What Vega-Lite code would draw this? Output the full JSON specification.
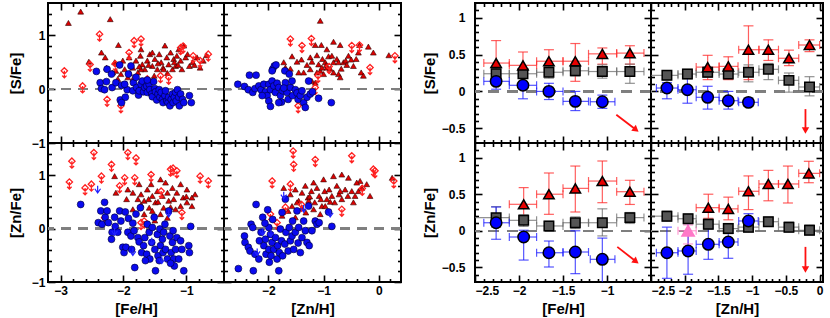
{
"$schema":"https://vega.github.io/schema/vega-lite/v6.json",
"padding":{"left":7,"top":1,"right":2,"bottom":1},
"config":{"view":{"stroke":"black","strokeWidth":2},
"axis":{"domain":false,"grid":false,"tickColor":"black","tickWidth":1.6,"labelColor":"black","labelFont":"Liberation Sans","labelFontSize":12,"labelFontWeight":"bold","titleFont":"Liberation Sans","titleFontSize":15,"titleFontWeight":"bold","titleColor":"black","labelPadding":10,"titlePadding":5,"format":"~g"}},
"datasets":{
"sc":[
{"p":"TL","c":"r","x":-2.875,"y":1.23},{"p":"TL","c":"r","x":-2.68,"y":1.44},{"p":"TL","c":"r","x":-2.21,"y":1.3},{"p":"TL","c":"r","x":-2.35,"y":0.68},{"p":"TL","c":"r","x":-2.29,"y":0.59},{"p":"TL","c":"r","x":-2.55,"y":0.51},{"p":"TL","c":"r","x":-2.08,"y":0.82},{"p":"TL","c":"r","x":-2.27,"y":0.4},{"p":"TL","c":"r","x":-2.17,"y":0.31},{"p":"TL","c":"r","x":-2.12,"y":0.34},{"p":"TL","c":"r","x":-2.04,"y":0.28},{"p":"TL","c":"r","x":-1.98,"y":0.37},{"p":"TL","c":"r","x":-1.93,"y":0.22},{"p":"TL","c":"r","x":-1.85,"y":0.4},{"p":"TL","c":"r","x":-1.8,"y":0.53},{"p":"TL","c":"r","x":-1.77,"y":0.31},{"p":"TL","c":"r","x":-1.73,"y":0.62},{"p":"TL","c":"r","x":-1.7,"y":0.46},{"p":"TL","c":"r","x":-1.66,"y":0.37},{"p":"TL","c":"r","x":-1.62,"y":0.53},{"p":"TL","c":"r","x":-1.58,"y":0.65},{"p":"TL","c":"r","x":-1.54,"y":0.43},{"p":"TL","c":"r","x":-1.5,"y":0.56},{"p":"TL","c":"r","x":-1.46,"y":0.37},{"p":"TL","c":"r","x":-1.43,"y":0.65},{"p":"TL","c":"r","x":-1.4,"y":0.5},{"p":"TL","c":"r","x":-1.37,"y":0.4},{"p":"TL","c":"r","x":-1.34,"y":0.81},{"p":"TL","c":"r","x":-1.31,"y":0.59},{"p":"TL","c":"r","x":-1.28,"y":0.46},{"p":"TL","c":"r","x":-1.25,"y":0.68},{"p":"TL","c":"r","x":-1.22,"y":0.37},{"p":"TL","c":"r","x":-1.2,"y":0.56},{"p":"TL","c":"r","x":-1.17,"y":0.43},{"p":"TL","c":"r","x":-1.15,"y":0.62},{"p":"TL","c":"r","x":-1.12,"y":0.74},{"p":"TL","c":"r","x":-1.09,"y":0.53},{"p":"TL","c":"r","x":-1.07,"y":0.37},{"p":"TL","c":"r","x":-1.04,"y":0.81},{"p":"TL","c":"r","x":-1.01,"y":0.59},{"p":"TL","c":"r","x":-0.98,"y":0.65},{"p":"TL","c":"r","x":-0.95,"y":0.43},{"p":"TL","c":"r","x":-0.9,"y":0.5},{"p":"TL","c":"r","x":-0.83,"y":0.59},{"p":"TL","c":"r","x":-0.78,"y":0.4},{"p":"TL","c":"r","x":-0.73,"y":0.53},{"p":"TL","c":"r","x":-0.68,"y":0.63},{"p":"TL","c":"r","x":-2.14,"y":0.5},{"p":"TL","c":"r","x":-2.01,"y":0.53},{"p":"TL","c":"r","x":-1.91,"y":0.59},{"p":"TL","c":"r","x":-1.72,"y":0.74},{"p":"TL","c":"r","x":-1.54,"y":0.68},{"p":"TL","c":"r","x":-1.36,"y":0.37},{"p":"TL","c":"r","x":-1.51,"y":0.25},{"p":"TL","c":"r","x":-1.85,"y":0.19},{"p":"TL","c":"r","x":-2.09,"y":0.19},{"p":"TL","c":"r","x":-1.72,"y":0.37},{"p":"TL","c":"r","x":-1.19,"y":0.5},{"p":"TL","c":"r","x":-1.6,"y":0.45},{"p":"TL","c":"r","x":-1.45,"y":0.48},{"p":"TL","c":"r","x":-1.3,"y":0.3},{"p":"TL","c":"r","x":-1.13,"y":0.45},{"p":"TL","c":"r","x":-0.87,"y":0.45},{"p":"TL","c":"r","x":-1.75,"y":0.42},{"p":"TL","c":"r","x":-1.9,"y":0.3},
{"p":"TL","c":"rl","x":-2.94,"y":0.34},{"p":"TL","c":"rl","x":-2.65,"y":0.06},{"p":"TL","c":"rl","x":-2.53,"y":0.46},{"p":"TL","c":"rl","x":-2.38,"y":1.02},{"p":"TL","c":"rl","x":-2.26,"y":-0.19},{"p":"TL","c":"rl","x":-2.04,"y":-0.31},{"p":"TL","c":"rl","x":-1.91,"y":0.68},{"p":"TL","c":"rl","x":-1.83,"y":0.9},{"p":"TL","c":"rl","x":-1.72,"y":0.93},{"p":"TL","c":"rl","x":-1.41,"y":0.25},{"p":"TL","c":"rl","x":-1.28,"y":0.22},{"p":"TL","c":"rl","x":-1.09,"y":0.77},{"p":"TL","c":"rl","x":-0.65,"y":0.65},{"p":"TL","c":"rl","x":-0.78,"y":0.53},{"p":"TL","c":"rl","x":-0.89,"y":0.62},{"p":"TL","c":"rl","x":-1.62,"y":0.19},{"p":"TL","c":"rl","x":-2.13,"y":0.47},{"p":"TL","c":"rl","x":-1.05,"y":0.8},
{"p":"TL","c":"b","x":-2.43,"y":0.33},{"p":"TL","c":"b","x":-2.37,"y":0.12},{"p":"TL","c":"b","x":-2.35,"y":0.01},{"p":"TL","c":"b","x":-2.27,"y":0.14},{"p":"TL","c":"b","x":-2.26,"y":0.37},{"p":"TL","c":"b","x":-2.19,"y":0.28},{"p":"TL","c":"b","x":-2.18,"y":0.03},{"p":"TL","c":"b","x":-2.12,"y":0.12},{"p":"TL","c":"b","x":-2.06,"y":0.45},{"p":"TL","c":"b","x":-2.05,"y":-0.2},{"p":"TL","c":"b","x":-2.03,"y":0.07},{"p":"TL","c":"b","x":-1.97,"y":-0.15},{"p":"TL","c":"b","x":-1.94,"y":-0.01},{"p":"TL","c":"b","x":-1.92,"y":0.28},{"p":"TL","c":"b","x":-1.88,"y":0.43},{"p":"TL","c":"b","x":-1.85,"y":-0.03},{"p":"TL","c":"b","x":-1.84,"y":0.12},{"p":"TL","c":"b","x":-1.8,"y":0.22},{"p":"TL","c":"b","x":-1.79,"y":0.03},{"p":"TL","c":"b","x":-1.76,"y":-0.11},{"p":"TL","c":"b","x":-1.75,"y":-0.03},{"p":"TL","c":"b","x":-1.72,"y":0.09},{"p":"TL","c":"b","x":-1.7,"y":0.15},{"p":"TL","c":"b","x":-1.68,"y":-0.05},{"p":"TL","c":"b","x":-1.66,"y":0.03},{"p":"TL","c":"b","x":-1.63,"y":0.06},{"p":"TL","c":"b","x":-1.62,"y":-0.06},{"p":"TL","c":"b","x":-1.59,"y":0.09},{"p":"TL","c":"b","x":-1.58,"y":-0.01},{"p":"TL","c":"b","x":-1.55,"y":-0.09},{"p":"TL","c":"b","x":-1.54,"y":-0.14},{"p":"TL","c":"b","x":-1.52,"y":0.14},{"p":"TL","c":"b","x":-1.5,"y":0.01},{"p":"TL","c":"b","x":-1.49,"y":-0.05},{"p":"TL","c":"b","x":-1.47,"y":-0.2},{"p":"TL","c":"b","x":-1.45,"y":-0.09},{"p":"TL","c":"b","x":-1.43,"y":-0.01},{"p":"TL","c":"b","x":-1.42,"y":-0.15},{"p":"TL","c":"b","x":-1.4,"y":-0.06},{"p":"TL","c":"b","x":-1.38,"y":-0.19},{"p":"TL","c":"b","x":-1.37,"y":-0.25},{"p":"TL","c":"b","x":-1.34,"y":-0.12},{"p":"TL","c":"b","x":-1.33,"y":-0.03},{"p":"TL","c":"b","x":-1.31,"y":-0.22},{"p":"TL","c":"b","x":-1.29,"y":-0.25},{"p":"TL","c":"b","x":-1.28,"y":-0.15},{"p":"TL","c":"b","x":-1.26,"y":-0.31},{"p":"TL","c":"b","x":-1.24,"y":-0.19},{"p":"TL","c":"b","x":-1.22,"y":-0.09},{"p":"TL","c":"b","x":-1.21,"y":-0.25},{"p":"TL","c":"b","x":-1.19,"y":-0.15},{"p":"TL","c":"b","x":-1.17,"y":-0.06},{"p":"TL","c":"b","x":-1.16,"y":-0.22},{"p":"TL","c":"b","x":-1.14,"y":-0.01},{"p":"TL","c":"b","x":-1.12,"y":-0.15},{"p":"TL","c":"b","x":-1.11,"y":-0.31},{"p":"TL","c":"b","x":-1.09,"y":-0.09},{"p":"TL","c":"b","x":-1.06,"y":-0.19},{"p":"TL","c":"b","x":-1.04,"y":-0.25},{"p":"TL","c":"b","x":-0.95,"y":-0.12},{"p":"TL","c":"b","x":-0.92,"y":-0.25},{"p":"TL","c":"b","x":-1.62,"y":0.17},{"p":"TL","c":"b","x":-1.98,"y":0.09},{"p":"TL","c":"b","x":-2.3,"y":-0.01},{"p":"TL","c":"b","x":-2.03,"y":-0.25},
{"p":"TR","c":"r","x":-1.06,"y":1.27},{"p":"TR","c":"r","x":-1.15,"y":0.82},{"p":"TR","c":"r","x":-1.04,"y":0.82},{"p":"TR","c":"r","x":-0.82,"y":0.88},{"p":"TR","c":"r","x":-0.7,"y":0.82},{"p":"TR","c":"r","x":-0.35,"y":0.82},{"p":"TR","c":"r","x":-0.19,"y":0.79},{"p":"TR","c":"r","x":-0.1,"y":0.68},{"p":"TR","c":"r","x":0.18,"y":0.63},{"p":"TR","c":"r","x":-1.57,"y":0.61},{"p":"TR","c":"r","x":-1.48,"y":0.51},{"p":"TR","c":"r","x":-1.24,"y":0.59},{"p":"TR","c":"r","x":-1.21,"y":0.51},{"p":"TR","c":"r","x":-1.12,"y":0.63},{"p":"TR","c":"r","x":-1.09,"y":0.46},{"p":"TR","c":"r","x":-1.02,"y":0.56},{"p":"TR","c":"r","x":-0.97,"y":0.5},{"p":"TR","c":"r","x":-0.94,"y":0.4},{"p":"TR","c":"r","x":-0.91,"y":0.61},{"p":"TR","c":"r","x":-0.85,"y":0.62},{"p":"TR","c":"r","x":-0.82,"y":0.5},{"p":"TR","c":"r","x":-0.76,"y":0.56},{"p":"TR","c":"r","x":-0.73,"y":0.5},{"p":"TR","c":"r","x":-0.68,"y":0.38},{"p":"TR","c":"r","x":-0.64,"y":0.5},{"p":"TR","c":"r","x":-0.6,"y":0.53},{"p":"TR","c":"r","x":-0.55,"y":0.62},{"p":"TR","c":"r","x":-0.46,"y":0.43},{"p":"TR","c":"r","x":-0.41,"y":0.56},{"p":"TR","c":"r","x":-0.37,"y":0.68},{"p":"TR","c":"r","x":-0.32,"y":0.31},{"p":"TR","c":"r","x":-0.28,"y":0.25},{"p":"TR","c":"r","x":-1.72,"y":0.5},{"p":"TR","c":"r","x":-1.69,"y":0.4},{"p":"TR","c":"r","x":-1.6,"y":0.38},{"p":"TR","c":"r","x":-1.45,"y":0.31},{"p":"TR","c":"r","x":-1.36,"y":0.31},{"p":"TR","c":"r","x":-1.21,"y":0.15},{"p":"TR","c":"r","x":-1.12,"y":0.31},{"p":"TR","c":"r","x":-1.06,"y":0.34},{"p":"TR","c":"r","x":-1.03,"y":0.4},{"p":"TR","c":"r","x":-1.0,"y":0.28},{"p":"TR","c":"r","x":-1.15,"y":0.12},{"p":"TR","c":"r","x":-0.94,"y":0.74},{"p":"TR","c":"r","x":-0.73,"y":0.28},{"p":"TR","c":"r","x":-0.7,"y":0.22},{"p":"TR","c":"r","x":-1.24,"y":0.37},{"p":"TR","c":"r","x":-0.82,"y":0.31},{"p":"TR","c":"r","x":-0.95,"y":0.45},{"p":"TR","c":"r","x":-0.88,"y":0.38},{"p":"TR","c":"r","x":-0.58,"y":0.45},{"p":"TR","c":"r","x":-0.5,"y":0.55},{"p":"TR","c":"r","x":-1.3,"y":0.45},{"p":"TR","c":"r","x":-1.4,"y":0.55},
{"p":"TR","c":"rl","x":-1.6,"y":0.93},{"p":"TR","c":"rl","x":-1.22,"y":0.94},{"p":"TR","c":"rl","x":-1.39,"y":0.81},{"p":"TR","c":"rl","x":-1.46,"y":-0.31},{"p":"TR","c":"rl","x":-1.15,"y":0.03},{"p":"TR","c":"rl","x":-0.49,"y":0.81},{"p":"TR","c":"rl","x":-0.16,"y":0.4},{"p":"TR","c":"rl","x":0.29,"y":0.62},{"p":"TR","c":"rl","x":-0.35,"y":0.82},{"p":"TR","c":"rl","x":-1.1,"y":0.25},{"p":"TR","c":"rl","x":-0.9,"y":0.42},
{"p":"TR","c":"b","x":-2.55,"y":0.09},{"p":"TR","c":"b","x":-2.43,"y":0.05},{"p":"TR","c":"b","x":-2.34,"y":0.26},{"p":"TR","c":"b","x":-2.22,"y":0.26},{"p":"TR","c":"b","x":-2.36,"y":-0.01},{"p":"TR","c":"b","x":-2.28,"y":-0.06},{"p":"TR","c":"b","x":-2.24,"y":0.01},{"p":"TR","c":"b","x":-2.17,"y":0.06},{"p":"TR","c":"b","x":-2.13,"y":-0.01},{"p":"TR","c":"b","x":-2.08,"y":0.09},{"p":"TR","c":"b","x":-2.05,"y":-0.05},{"p":"TR","c":"b","x":-2.02,"y":-0.12},{"p":"TR","c":"b","x":-1.99,"y":-0.22},{"p":"TR","c":"b","x":-1.96,"y":-0.32},{"p":"TR","c":"b","x":-1.99,"y":0.09},{"p":"TR","c":"b","x":-1.96,"y":-0.01},{"p":"TR","c":"b","x":-1.93,"y":0.15},{"p":"TR","c":"b","x":-1.92,"y":0.37},{"p":"TR","c":"b","x":-1.89,"y":0.43},{"p":"TR","c":"b","x":-1.86,"y":0.45},{"p":"TR","c":"b","x":-1.93,"y":0.34},{"p":"TR","c":"b","x":-1.9,"y":0.06},{"p":"TR","c":"b","x":-1.87,"y":-0.06},{"p":"TR","c":"b","x":-1.84,"y":0.11},{"p":"TR","c":"b","x":-1.81,"y":0.03},{"p":"TR","c":"b","x":-1.78,"y":-0.12},{"p":"TR","c":"b","x":-1.76,"y":-0.24},{"p":"TR","c":"b","x":-1.74,"y":-0.03},{"p":"TR","c":"b","x":-1.7,"y":0.34},{"p":"TR","c":"b","x":-1.69,"y":0.12},{"p":"TR","c":"b","x":-1.66,"y":-0.06},{"p":"TR","c":"b","x":-1.64,"y":-0.19},{"p":"TR","c":"b","x":-1.62,"y":0.28},{"p":"TR","c":"b","x":-1.6,"y":0.03},{"p":"TR","c":"b","x":-1.57,"y":0.15},{"p":"TR","c":"b","x":-1.56,"y":-0.12},{"p":"TR","c":"b","x":-1.51,"y":-0.01},{"p":"TR","c":"b","x":-1.48,"y":-0.07},{"p":"TR","c":"b","x":-1.46,"y":-0.19},{"p":"TR","c":"b","x":-1.42,"y":-0.12},{"p":"TR","c":"b","x":-1.39,"y":-0.03},{"p":"TR","c":"b","x":-1.36,"y":-0.25},{"p":"TR","c":"b","x":-1.33,"y":-0.34},{"p":"TR","c":"b","x":-1.3,"y":-0.15},{"p":"TR","c":"b","x":-1.27,"y":0.15},{"p":"TR","c":"b","x":-1.24,"y":-0.09},{"p":"TR","c":"b","x":-1.2,"y":-0.05},{"p":"TR","c":"b","x":-1.09,"y":-0.17},{"p":"TR","c":"b","x":-0.86,"y":-0.25},{"p":"TR","c":"b","x":-1.81,"y":-0.25},{"p":"TR","c":"b","x":-2.11,"y":-0.12},{"p":"TR","c":"b","x":-1.72,"y":0.02},
{"p":"BL","c":"r","x":-2.14,"y":0.98},{"p":"BL","c":"r","x":-1.41,"y":0.92},{"p":"BL","c":"r","x":-1.33,"y":0.86},{"p":"BL","c":"r","x":-1.93,"y":0.73},{"p":"BL","c":"r","x":-2.12,"y":0.67},{"p":"BL","c":"r","x":-1.85,"y":0.67},{"p":"BL","c":"r","x":-1.72,"y":0.64},{"p":"BL","c":"r","x":-1.62,"y":0.73},{"p":"BL","c":"r","x":-1.54,"y":0.61},{"p":"BL","c":"r","x":-1.46,"y":0.7},{"p":"BL","c":"r","x":-1.38,"y":0.61},{"p":"BL","c":"r","x":-1.3,"y":0.67},{"p":"BL","c":"r","x":-1.22,"y":0.76},{"p":"BL","c":"r","x":-1.15,"y":0.67},{"p":"BL","c":"r","x":-1.09,"y":0.83},{"p":"BL","c":"r","x":-1.05,"y":0.58},{"p":"BL","c":"r","x":-0.99,"y":0.73},{"p":"BL","c":"r","x":-0.91,"y":0.58},{"p":"BL","c":"r","x":-0.86,"y":0.64},{"p":"BL","c":"r","x":-0.99,"y":0.49},{"p":"BL","c":"r","x":-1.09,"y":0.42},{"p":"BL","c":"r","x":-1.72,"y":0.45},{"p":"BL","c":"r","x":-1.59,"y":0.39},{"p":"BL","c":"r","x":-1.49,"y":0.49},{"p":"BL","c":"r","x":-1.36,"y":0.39},{"p":"BL","c":"r","x":-1.28,"y":0.52},{"p":"BL","c":"r","x":-1.17,"y":0.36},{"p":"BL","c":"r","x":-1.77,"y":0.55},{"p":"BL","c":"r","x":-1.67,"y":0.52},{"p":"BL","c":"r","x":-1.85,"y":0.36},{"p":"BL","c":"r","x":-1.67,"y":0.27},{"p":"BL","c":"r","x":-1.54,"y":0.33},{"p":"BL","c":"r","x":-1.41,"y":0.27},{"p":"BL","c":"r","x":-1.56,"y":0.83},{"p":"BL","c":"r","x":-1.75,"y":0.83},{"p":"BL","c":"r","x":-0.91,"y":0.42},{"p":"BL","c":"r","x":-1.2,"y":0.55},{"p":"BL","c":"r","x":-1.45,"y":0.5},{"p":"BL","c":"r","x":-1.6,"y":0.55},{"p":"BL","c":"r","x":-1.25,"y":0.4},{"p":"BL","c":"r","x":-1.0,"y":0.6},{"p":"BL","c":"r","x":-1.95,"y":0.55},{"p":"BL","c":"r","x":-1.5,"y":0.15},{"p":"BL","c":"r","x":-1.3,"y":0.2},
{"p":"BL","c":"rl","x":-2.82,"y":1.26},{"p":"BL","c":"rl","x":-2.86,"y":0.87},{"p":"BL","c":"rl","x":-2.61,"y":0.76},{"p":"BL","c":"rl","x":-2.51,"y":0.83},{"p":"BL","c":"rl","x":-2.47,"y":1.42},{"p":"BL","c":"rl","x":-2.19,"y":1.2},{"p":"BL","c":"rl","x":-1.93,"y":1.42},{"p":"BL","c":"rl","x":-1.8,"y":1.32},{"p":"BL","c":"rl","x":-2.35,"y":0.98},{"p":"BL","c":"rl","x":-2.06,"y":0.8},{"p":"BL","c":"rl","x":-1.98,"y":0.95},{"p":"BL","c":"rl","x":-1.82,"y":0.95},{"p":"BL","c":"rl","x":-1.56,"y":1.01},{"p":"BL","c":"rl","x":-1.25,"y":1.11},{"p":"BL","c":"rl","x":-1.21,"y":1.13},{"p":"BL","c":"rl","x":-1.15,"y":1.08},{"p":"BL","c":"rl","x":-0.78,"y":0.98},{"p":"BL","c":"rl","x":-0.65,"y":0.89},{"p":"BL","c":"rl","x":-1.67,"y":0.14},{"p":"BL","c":"rl","x":-1.72,"y":0.11},{"p":"BL","c":"rl","x":-1.07,"y":0.3},{"p":"BL","c":"rl","x":-1.4,"y":0.7},{"p":"BL","c":"rl","x":-2.3,"y":0.2},
{"p":"BL","c":"b","x":-2.68,"y":0.45},{"p":"BL","c":"b","x":-2.4,"y":0.11},{"p":"BL","c":"b","x":-2.36,"y":0.33},{"p":"BL","c":"b","x":-2.34,"y":0.08},{"p":"BL","c":"b","x":-2.3,"y":0.49},{"p":"BL","c":"b","x":-2.29,"y":0.21},{"p":"BL","c":"b","x":-2.26,"y":0.33},{"p":"BL","c":"b","x":-2.24,"y":0.11},{"p":"BL","c":"b","x":-2.19,"y":-0.2},{"p":"BL","c":"b","x":-2.18,"y":-0.07},{"p":"BL","c":"b","x":-2.14,"y":0.21},{"p":"BL","c":"b","x":-2.13,"y":0.04},{"p":"BL","c":"b","x":-2.09,"y":-0.07},{"p":"BL","c":"b","x":-2.06,"y":0.33},{"p":"BL","c":"b","x":-2.04,"y":0.14},{"p":"BL","c":"b","x":-2.01,"y":-0.35},{"p":"BL","c":"b","x":-1.99,"y":-0.45},{"p":"BL","c":"b","x":-1.96,"y":-0.35},{"p":"BL","c":"b","x":-1.97,"y":0.31},{"p":"BL","c":"b","x":-1.93,"y":-0.07},{"p":"BL","c":"b","x":-1.92,"y":0.19},{"p":"BL","c":"b","x":-1.88,"y":-0.14},{"p":"BL","c":"b","x":-1.87,"y":-0.39},{"p":"BL","c":"b","x":-1.83,"y":-0.04},{"p":"BL","c":"b","x":-1.82,"y":-0.73},{"p":"BL","c":"b","x":-1.8,"y":0.27},{"p":"BL","c":"b","x":-1.77,"y":-0.17},{"p":"BL","c":"b","x":-1.75,"y":-0.25},{"p":"BL","c":"b","x":-1.73,"y":0.39},{"p":"BL","c":"b","x":-1.71,"y":-0.45},{"p":"BL","c":"b","x":-1.68,"y":-0.32},{"p":"BL","c":"b","x":-1.66,"y":-0.17},{"p":"BL","c":"b","x":-1.63,"y":-0.48},{"p":"BL","c":"b","x":-1.62,"y":0.08},{"p":"BL","c":"b","x":-1.59,"y":-0.07},{"p":"BL","c":"b","x":-1.58,"y":-0.57},{"p":"BL","c":"b","x":-1.55,"y":-0.26},{"p":"BL","c":"b","x":-1.54,"y":0.02},{"p":"BL","c":"b","x":-1.51,"y":0.21},{"p":"BL","c":"b","x":-1.5,"y":-0.39},{"p":"BL","c":"b","x":-1.49,"y":-0.79},{"p":"BL","c":"b","x":-1.46,"y":-0.11},{"p":"BL","c":"b","x":-1.45,"y":-0.51},{"p":"BL","c":"b","x":-1.42,"y":-0.01},{"p":"BL","c":"b","x":-1.41,"y":-0.32},{"p":"BL","c":"b","x":-1.38,"y":-0.2},{"p":"BL","c":"b","x":-1.37,"y":-0.45},{"p":"BL","c":"b","x":-1.36,"y":-0.07},{"p":"BL","c":"b","x":-1.34,"y":0.08},{"p":"BL","c":"b","x":-1.33,"y":-0.39},{"p":"BL","c":"b","x":-1.3,"y":-0.57},{"p":"BL","c":"b","x":-1.28,"y":0.33},{"p":"BL","c":"b","x":-1.26,"y":-0.14},{"p":"BL","c":"b","x":-1.24,"y":-0.45},{"p":"BL","c":"b","x":-1.22,"y":-0.26},{"p":"BL","c":"b","x":-1.21,"y":-0.04},{"p":"BL","c":"b","x":-1.2,"y":-0.57},{"p":"BL","c":"b","x":-1.19,"y":-0.7},{"p":"BL","c":"b","x":-1.17,"y":-0.39},{"p":"BL","c":"b","x":-1.15,"y":-0.17},{"p":"BL","c":"b","x":-1.12,"y":-0.57},{"p":"BL","c":"b","x":-1.09,"y":-0.23},{"p":"BL","c":"b","x":-1.07,"y":-0.39},{"p":"BL","c":"b","x":-1.04,"y":-0.79},{"p":"BL","c":"b","x":-0.96,"y":-0.32},{"p":"BL","c":"b","x":-0.95,"y":-0.45},{"p":"BL","c":"b","x":-0.93,"y":0.04},{"p":"BL","c":"b","x":-1.85,"y":0.1},{"p":"BL","c":"b","x":-1.65,"y":-0.6},{"p":"BL","c":"b","x":-1.43,"y":-0.6},{"p":"BL","c":"b","x":-1.25,"y":-0.65},
{"p":"BL","c":"bl","x":-2.41,"y":0.72},{"p":"BL","c":"bl","x":-2.14,"y":-0.07},{"p":"BL","c":"bl","x":-1.85,"y":-0.45},{"p":"BL","c":"bl","x":-1.55,"y":-0.25},{"p":"BL","c":"bl","x":-1.39,"y":-0.6},{"p":"BL","c":"bl","x":-1.28,"y":0.27},
{"p":"BR","c":"r","x":-1.18,"y":0.86},{"p":"BR","c":"r","x":-1.0,"y":0.92},{"p":"BR","c":"r","x":-0.82,"y":0.98},{"p":"BR","c":"r","x":-0.67,"y":1.01},{"p":"BR","c":"r","x":-0.55,"y":0.95},{"p":"BR","c":"r","x":-0.37,"y":0.7},{"p":"BR","c":"r","x":-0.34,"y":0.89},{"p":"BR","c":"r","x":-0.16,"y":0.61},{"p":"BR","c":"r","x":0.24,"y":0.95},{"p":"BR","c":"r","x":-1.72,"y":0.76},{"p":"BR","c":"r","x":-1.6,"y":0.64},{"p":"BR","c":"r","x":-1.51,"y":0.73},{"p":"BR","c":"r","x":-1.45,"y":0.52},{"p":"BR","c":"r","x":-1.39,"y":0.67},{"p":"BR","c":"r","x":-1.33,"y":0.8},{"p":"BR","c":"r","x":-1.28,"y":0.58},{"p":"BR","c":"r","x":-1.22,"y":0.7},{"p":"BR","c":"r","x":-1.16,"y":0.49},{"p":"BR","c":"r","x":-1.12,"y":0.76},{"p":"BR","c":"r","x":-1.08,"y":0.61},{"p":"BR","c":"r","x":-1.03,"y":0.42},{"p":"BR","c":"r","x":-0.98,"y":0.7},{"p":"BR","c":"r","x":-0.94,"y":0.55},{"p":"BR","c":"r","x":-0.9,"y":0.73},{"p":"BR","c":"r","x":-0.85,"y":0.61},{"p":"BR","c":"r","x":-0.8,"y":0.49},{"p":"BR","c":"r","x":-0.76,"y":0.8},{"p":"BR","c":"r","x":-0.72,"y":0.64},{"p":"BR","c":"r","x":-0.67,"y":0.55},{"p":"BR","c":"r","x":-0.61,"y":0.73},{"p":"BR","c":"r","x":-0.56,"y":0.61},{"p":"BR","c":"r","x":-0.49,"y":0.7},{"p":"BR","c":"r","x":-0.43,"y":0.61},{"p":"BR","c":"r","x":-0.4,"y":0.86},{"p":"BR","c":"r","x":-0.31,"y":0.76},{"p":"BR","c":"r","x":-0.22,"y":0.83},{"p":"BR","c":"r","x":-1.57,"y":0.42},{"p":"BR","c":"r","x":-1.48,"y":0.49},{"p":"BR","c":"r","x":-1.39,"y":0.39},{"p":"BR","c":"r","x":-1.32,"y":0.3},{"p":"BR","c":"r","x":-1.27,"y":0.52},{"p":"BR","c":"r","x":-1.18,"y":0.36},{"p":"BR","c":"r","x":-1.06,"y":0.27},{"p":"BR","c":"r","x":-0.97,"y":0.42},{"p":"BR","c":"r","x":-1.75,"y":0.24},{"p":"BR","c":"r","x":-1.64,"y":0.33},{"p":"BR","c":"r","x":-1.51,"y":0.21},{"p":"BR","c":"r","x":-0.46,"y":0.49},{"p":"BR","c":"r","x":-1.25,"y":0.6},{"p":"BR","c":"r","x":-1.05,"y":0.55},{"p":"BR","c":"r","x":-0.88,"y":0.5},{"p":"BR","c":"r","x":-0.7,"y":0.7},
{"p":"BR","c":"rl","x":-1.93,"y":0.89},{"p":"BR","c":"rl","x":-1.6,"y":0.83},{"p":"BR","c":"rl","x":-1.54,"y":1.2},{"p":"BR","c":"rl","x":-1.15,"y":1.29},{"p":"BR","c":"rl","x":-0.49,"y":1.36},{"p":"BR","c":"rl","x":-0.1,"y":1.11},{"p":"BR","c":"rl","x":-0.07,"y":1.08},{"p":"BR","c":"rl","x":0.27,"y":0.89},{"p":"BR","c":"rl","x":-1.84,"y":0.11},{"p":"BR","c":"rl","x":-1.96,"y":0.27},{"p":"BR","c":"rl","x":-1.69,"y":0.4},{"p":"BR","c":"rl","x":-0.67,"y":0.36},{"p":"BR","c":"rl","x":-1.4,"y":0.45},{"p":"BR","c":"rl","x":-1.55,"y":1.45},{"p":"BR","c":"rl","x":-0.3,"y":0.75},
{"p":"BR","c":"b","x":-2.54,"y":-0.75},{"p":"BR","c":"b","x":-2.43,"y":-0.14},{"p":"BR","c":"b","x":-2.42,"y":-0.26},{"p":"BR","c":"b","x":-2.36,"y":-0.35},{"p":"BR","c":"b","x":-2.33,"y":-0.42},{"p":"BR","c":"b","x":-2.31,"y":0.08},{"p":"BR","c":"b","x":-2.28,"y":0.02},{"p":"BR","c":"b","x":-2.27,"y":-0.79},{"p":"BR","c":"b","x":-2.24,"y":-0.48},{"p":"BR","c":"b","x":-2.22,"y":0.45},{"p":"BR","c":"b","x":-2.17,"y":-0.57},{"p":"BR","c":"b","x":-2.16,"y":-0.23},{"p":"BR","c":"b","x":-2.13,"y":-0.07},{"p":"BR","c":"b","x":-2.1,"y":0.21},{"p":"BR","c":"b","x":-2.08,"y":-0.32},{"p":"BR","c":"b","x":-2.05,"y":-0.2},{"p":"BR","c":"b","x":-2.04,"y":-0.48},{"p":"BR","c":"b","x":-2.01,"y":0.35},{"p":"BR","c":"b","x":-1.99,"y":-0.39},{"p":"BR","c":"b","x":-1.98,"y":-0.63},{"p":"BR","c":"b","x":-1.96,"y":-0.11},{"p":"BR","c":"b","x":-1.95,"y":-0.51},{"p":"BR","c":"b","x":-1.93,"y":-0.26},{"p":"BR","c":"b","x":-1.92,"y":0.17},{"p":"BR","c":"b","x":-1.9,"y":-0.39},{"p":"BR","c":"b","x":-1.87,"y":-0.17},{"p":"BR","c":"b","x":-1.84,"y":-0.57},{"p":"BR","c":"b","x":-1.83,"y":-0.32},{"p":"BR","c":"b","x":-1.81,"y":-0.79},{"p":"BR","c":"b","x":-1.8,"y":-0.45},{"p":"BR","c":"b","x":-1.78,"y":-0.01},{"p":"BR","c":"b","x":-1.76,"y":-0.23},{"p":"BR","c":"b","x":-1.75,"y":0.3},{"p":"BR","c":"b","x":-1.74,"y":-0.51},{"p":"BR","c":"b","x":-1.7,"y":-0.29},{"p":"BR","c":"b","x":-1.69,"y":0.55},{"p":"BR","c":"b","x":-1.68,"y":-0.07},{"p":"BR","c":"b","x":-1.64,"y":-0.42},{"p":"BR","c":"b","x":-1.62,"y":0.02},{"p":"BR","c":"b","x":-1.6,"y":-0.23},{"p":"BR","c":"b","x":-1.57,"y":-0.14},{"p":"BR","c":"b","x":-1.56,"y":0.14},{"p":"BR","c":"b","x":-1.54,"y":-0.39},{"p":"BR","c":"b","x":-1.51,"y":-0.07},{"p":"BR","c":"b","x":-1.48,"y":0.33},{"p":"BR","c":"b","x":-1.46,"y":-0.27},{"p":"BR","c":"b","x":-1.45,"y":0.02},{"p":"BR","c":"b","x":-1.42,"y":-0.45},{"p":"BR","c":"b","x":-1.39,"y":-0.17},{"p":"BR","c":"b","x":-1.36,"y":0.14},{"p":"BR","c":"b","x":-1.33,"y":-0.04},{"p":"BR","c":"b","x":-1.3,"y":-0.26},{"p":"BR","c":"b","x":-1.27,"y":0.42},{"p":"BR","c":"b","x":-1.26,"y":-0.32},{"p":"BR","c":"b","x":-1.21,"y":-0.04},{"p":"BR","c":"b","x":-1.15,"y":0.14},{"p":"BR","c":"b","x":-1.12,"y":0.08},{"p":"BR","c":"b","x":-1.08,"y":0.11},{"p":"BR","c":"b","x":-0.91,"y":0.31},{"p":"BR","c":"b","x":-0.85,"y":0.04},{"p":"BR","c":"b","x":-1.99,"y":0.02},{"p":"BR","c":"b","x":-2.06,"y":0.1},
{"p":"BR","c":"bl","x":-1.72,"y":0.61},{"p":"BR","c":"bl","x":-2.1,"y":-0.07},{"p":"BR","c":"bl","x":-2.2,"y":-0.45},{"p":"BR","c":"bl","x":-0.88,"y":0.27},{"p":"BR","c":"bl","x":-1.36,"y":0.36},{"p":"BR","c":"bl","x":-1.95,"y":-0.1}
],
"sm":[
{"p":"RTL","g":"g","x":-2.26,"xl":-2.4,"xh":-2.11,"y":0.24,"yl":0.17,"yh":0.31},{"p":"RTL","g":"g","x":-1.955,"xl":-2.11,"xh":-1.8,"y":0.24,"yl":0.18,"yh":0.3},{"p":"RTL","g":"g","x":-1.66,"xl":-1.8,"xh":-1.5,"y":0.26,"yl":0.18,"yh":0.34},{"p":"RTL","g":"g","x":-1.36,"xl":-1.5,"xh":-1.21,"y":0.28,"yl":0.21,"yh":0.35},{"p":"RTL","g":"g","x":-1.053,"xl":-1.21,"xh":-0.89,"y":0.27,"yl":0.18,"yh":0.36},{"p":"RTL","g":"g","x":-0.74,"xl":-0.89,"xh":-0.58,"y":0.27,"yl":0.11,"yh":0.37},
{"p":"RTL","g":"r","x":-2.26,"xl":-2.4,"xh":-2.11,"y":0.385,"yl":0.16,"yh":0.69},{"p":"RTL","g":"r","x":-1.955,"xl":-2.11,"xh":-1.8,"y":0.354,"yl":0.18,"yh":0.535},{"p":"RTL","g":"r","x":-1.66,"xl":-1.8,"xh":-1.5,"y":0.41,"yl":0.227,"yh":0.566},{"p":"RTL","g":"r","x":-1.36,"xl":-1.5,"xh":-1.21,"y":0.41,"yl":0.137,"yh":0.65},{"p":"RTL","g":"r","x":-1.053,"xl":-1.21,"xh":-0.89,"y":0.51,"yl":0.37,"yh":0.59},{"p":"RTL","g":"r","x":-0.74,"xl":-0.89,"xh":-0.58,"y":0.52,"yl":0.37,"yh":0.62},
{"p":"RTL","g":"b","x":-2.26,"xl":-2.4,"xh":-2.11,"y":0.137,"yl":0.03,"yh":0.22},{"p":"RTL","g":"b","x":-1.955,"xl":-2.11,"xh":-1.8,"y":0.083,"yl":-0.1,"yh":0.2},{"p":"RTL","g":"b","x":-1.66,"xl":-1.8,"xh":-1.5,"y":0.0,"yl":-0.11,"yh":0.11},{"p":"RTL","g":"b","x":-1.36,"xl":-1.5,"xh":-1.21,"y":-0.135,"yl":-0.26,"yh":0.0},{"p":"RTL","g":"b","x":-1.053,"xl":-1.19,"xh":-0.91,"y":-0.14,"yl":-0.23,"yh":-0.05},
{"p":"RTR","g":"g","x":-2.264,"xl":-2.52,"xh":-2.1,"y":0.218,"yl":0.16,"yh":0.28},{"p":"RTR","g":"g","x":-1.96,"xl":-2.1,"xh":-1.83,"y":0.236,"yl":0.17,"yh":0.3},{"p":"RTR","g":"g","x":-1.66,"xl":-1.83,"xh":-1.49,"y":0.26,"yl":0.19,"yh":0.33},{"p":"RTR","g":"g","x":-1.354,"xl":-1.49,"xh":-1.21,"y":0.236,"yl":0.17,"yh":0.3},{"p":"RTR","g":"g","x":-1.055,"xl":-1.2,"xh":-0.9,"y":0.26,"yl":0.13,"yh":0.36},{"p":"RTR","g":"g","x":-0.76,"xl":-0.9,"xh":-0.61,"y":0.3,"yl":0.16,"yh":0.38},{"p":"RTR","g":"g","x":-0.455,"xl":-0.61,"xh":-0.31,"y":0.15,"yl":-0.01,"yh":0.25},{"p":"RTR","g":"g","x":-0.15,"xl":-0.31,"xh":0.0,"y":0.06,"yl":-0.06,"yh":0.2},
{"p":"RTR","g":"r","x":-1.66,"xl":-1.83,"xh":-1.49,"y":0.33,"yl":0.16,"yh":0.49},{"p":"RTR","g":"r","x":-1.354,"xl":-1.49,"xh":-1.21,"y":0.34,"yl":0.16,"yh":0.47},{"p":"RTR","g":"r","x":-1.055,"xl":-1.2,"xh":-0.9,"y":0.566,"yl":0.16,"yh":0.89},{"p":"RTR","g":"r","x":-0.76,"xl":-0.9,"xh":-0.61,"y":0.566,"yl":0.42,"yh":0.7},{"p":"RTR","g":"r","x":-0.455,"xl":-0.61,"xh":-0.31,"y":0.45,"yl":0.35,"yh":0.56},{"p":"RTR","g":"r","x":-0.15,"xl":-0.31,"xh":0.0,"y":0.63,"yl":0.54,"yh":0.7},
{"p":"RTR","g":"b","x":-2.264,"xl":-2.42,"xh":-2.1,"y":0.046,"yl":-0.1,"yh":0.12},{"p":"RTR","g":"b","x":-1.96,"xl":-2.1,"xh":-1.83,"y":0.023,"yl":-0.16,"yh":0.21},{"p":"RTR","g":"b","x":-1.66,"xl":-1.83,"xh":-1.49,"y":-0.08,"yl":-0.24,"yh":0.07},{"p":"RTR","g":"b","x":-1.354,"xl":-1.49,"xh":-1.21,"y":-0.126,"yl":-0.24,"yh":0.0},{"p":"RTR","g":"b","x":-1.055,"xl":-1.2,"xh":-0.91,"y":-0.148,"yl":-0.2,"yh":-0.09},
{"p":"RBL","g":"g","x":-2.26,"xl":-2.55,"xh":-2.11,"y":0.18,"yl":0.05,"yh":0.33},{"p":"RBL","g":"g","x":-1.947,"xl":-2.11,"xh":-1.8,"y":0.143,"yl":0.06,"yh":0.22},{"p":"RBL","g":"g","x":-1.66,"xl":-1.8,"xh":-1.5,"y":0.066,"yl":0.0,"yh":0.13},{"p":"RBL","g":"g","x":-1.36,"xl":-1.5,"xh":-1.21,"y":0.11,"yl":0.03,"yh":0.19},{"p":"RBL","g":"g","x":-1.053,"xl":-1.21,"xh":-0.89,"y":0.11,"yl":-0.07,"yh":0.3},{"p":"RBL","g":"g","x":-0.74,"xl":-0.89,"xh":-0.58,"y":0.18,"yl":0.1,"yh":0.25},
{"p":"RBL","g":"r","x":-1.947,"xl":-2.11,"xh":-1.8,"y":0.362,"yl":0.134,"yh":0.59},{"p":"RBL","g":"r","x":-1.66,"xl":-1.8,"xh":-1.5,"y":0.5,"yl":0.225,"yh":0.79},{"p":"RBL","g":"r","x":-1.36,"xl":-1.5,"xh":-1.21,"y":0.58,"yl":0.257,"yh":0.885},{"p":"RBL","g":"r","x":-1.053,"xl":-1.21,"xh":-0.89,"y":0.68,"yl":0.384,"yh":0.954},{"p":"RBL","g":"r","x":-0.74,"xl":-0.89,"xh":-0.58,"y":0.534,"yl":0.36,"yh":0.69},
{"p":"RBL","g":"b","x":-2.26,"xl":-2.4,"xh":-2.11,"y":0.11,"yl":-0.116,"yh":0.325},{"p":"RBL","g":"b","x":-1.947,"xl":-2.11,"xh":-1.8,"y":-0.085,"yl":-0.4,"yh":0.007},{"p":"RBL","g":"b","x":-1.66,"xl":-1.8,"xh":-1.5,"y":-0.3,"yl":-0.495,"yh":-0.14},{"p":"RBL","g":"b","x":-1.36,"xl":-1.5,"xh":-1.21,"y":-0.29,"yl":-0.586,"yh":0.0},{"p":"RBL","g":"b","x":-1.053,"xl":-1.19,"xh":-0.91,"y":-0.39,"yl":-0.75,"yh":-0.1},
{"p":"RBR","g":"g","x":-2.264,"xl":-2.55,"xh":-2.1,"y":0.2,"yl":0.13,"yh":0.27},{"p":"RBR","g":"g","x":-1.95,"xl":-2.1,"xh":-1.83,"y":0.165,"yl":0.1,"yh":0.23},{"p":"RBR","g":"g","x":-1.65,"xl":-1.83,"xh":-1.49,"y":0.09,"yl":0.02,"yh":0.16},{"p":"RBR","g":"g","x":-1.354,"xl":-1.49,"xh":-1.21,"y":0.03,"yl":-0.04,"yh":0.1},{"p":"RBR","g":"g","x":-1.055,"xl":-1.2,"xh":-0.9,"y":0.05,"yl":-0.02,"yh":0.12},{"p":"RBR","g":"g","x":-0.76,"xl":-0.9,"xh":-0.61,"y":0.124,"yl":0.06,"yh":0.19},{"p":"RBR","g":"g","x":-0.455,"xl":-0.61,"xh":-0.31,"y":0.05,"yl":-0.02,"yh":0.12},{"p":"RBR","g":"g","x":-0.15,"xl":-0.31,"xh":0.0,"y":0.007,"yl":-0.06,"yh":0.08},
{"p":"RBR","g":"r","x":-1.65,"xl":-1.83,"xh":-1.49,"y":0.316,"yl":0.17,"yh":0.5},{"p":"RBR","g":"r","x":-1.354,"xl":-1.49,"xh":-1.21,"y":0.3,"yl":0.15,"yh":0.46},{"p":"RBR","g":"r","x":-1.055,"xl":-1.2,"xh":-0.9,"y":0.54,"yl":0.29,"yh":0.75},{"p":"RBR","g":"r","x":-0.76,"xl":-0.9,"xh":-0.61,"y":0.64,"yl":0.41,"yh":0.826},{"p":"RBR","g":"r","x":-0.47,"xl":-0.61,"xh":-0.31,"y":0.64,"yl":0.38,"yh":0.885},{"p":"RBR","g":"r","x":-0.16,"xl":-0.31,"xh":0.0,"y":0.785,"yl":0.657,"yh":0.95},
{"p":"RBR","g":"p","x":-1.95,"xl":-2.1,"xh":-1.83,"y":0.0,"yl":-0.18,"yh":0.08},
{"p":"RBR","g":"b","x":-2.264,"xl":-2.42,"xh":-2.1,"y":-0.3,"yl":-0.65,"yh":0.05},{"p":"RBR","g":"b","x":-1.95,"xl":-2.1,"xh":-1.83,"y":-0.276,"yl":-0.594,"yh":0.18},{"p":"RBR","g":"b","x":-1.65,"xl":-1.83,"xh":-1.49,"y":-0.185,"yl":-0.39,"yh":0.034},{"p":"RBR","g":"b","x":-1.354,"xl":-1.49,"xh":-1.21,"y":-0.153,"yl":-0.376,"yh":0.007},{"p":"RBR","g":"b","x":-1.055,"xl":-1.2,"xh":-0.91,"y":0.134,"yl":0.04,"yh":0.234}
],
"ar":[
{"p":"RTL","x":-0.894,"y":-0.316,"x2":-0.67,"y2":-0.52},
{"p":"RBL","x":-0.883,"y":-0.22,"x2":-0.67,"y2":-0.42},
{"p":"RTR","x":-0.21,"y":-0.24,"x2":-0.21,"y2":-0.53},
{"p":"RBR","x":-0.21,"y":-0.22,"x2":-0.21,"y2":-0.53}
]},
"columns":5,"align":"each","bounds":"flush","spacing":0,
"concat":[
{"width":176,"height":140,"data":{"name":"sc"},"transform":[{"filter":"datum.p=='TL'"}],"resolve":{"axis":{"x":"independent","y":"independent"}},
"layer":[
{"mark":{"type":"rule","strokeDash":[10,7],"color":"#7f7f7f","strokeWidth":1.6},"encoding":{"y":{"datum":0,"type":"quantitative","scale":{"domain":[-1,1.6],"nice":false,"zero":false},"axis":null}}},
{"transform":[{"filter":"datum.c=='r'"}],"mark":{"type":"point","shape":"triangle-up","filled":true,"fill":"#dd0000","stroke":"#300000","strokeWidth":0.6,"size":34,"opacity":1},
"encoding":{"x":{"field":"x","type":"quantitative","scale":{"domain":[-3.2,-0.4],"nice":false,"zero":false},"axis":{"orient":"bottom","values":[-3,-2,-1],"tickSize":-7,"labels":false,"title":null}},
"y":{"field":"y","type":"quantitative","scale":{"domain":[-1,1.6],"nice":false,"zero":false},"axis":{"orient":"left","values":[-1,0,1],"tickSize":-7,"labelPadding":10,"title":"[S/Fe]","titlePadding":8}}}},
{"transform":[{"filter":"datum.c=='rl'"}],"mark":{"type":"point","shape":"M0,-0.5L0.5,0L0,0.5L-0.5,0Z M0,0L0,1.1 M-0.35,0.75L0,1.1L0.35,0.75","filled":false,"stroke":"#ff2020","strokeWidth":1.3,"size":160,"opacity":1},
"encoding":{"x":{"field":"x","type":"quantitative","axis":{"orient":"top","values":[-3,-2,-1],"tickSize":-7,"labels":false,"title":null}},
"y":{"field":"y","type":"quantitative","axis":{"orient":"right","values":[-1,0,1],"tickSize":-7,"labels":false,"title":null}}}},
{"transform":[{"filter":"datum.c=='b'"}],"mark":{"type":"circle","fill":"#0a0aee","stroke":"#000033","strokeWidth":0.6,"size":48,"opacity":1},
"encoding":{"x":{"field":"x","type":"quantitative","axis":{"orient":"bottom","values":[-2.8,-2.6,-2.4,-2.2,-1.8,-1.6,-1.4,-1.2,-0.8,-0.6],"tickSize":-3.5,"labels":false,"title":null}},
"y":{"field":"y","type":"quantitative","axis":{"orient":"left","values":[-0.8,-0.6,-0.4,-0.2,0.2,0.4,0.6,0.8,1.2,1.4],"tickSize":-3.5,"labels":false,"title":null}}}},
{"transform":[{"filter":"datum.c=='bl'"}],"mark":{"type":"point","shape":"M-0.55,-0.25L0,0.55L0.55,-0.25 M0,-0.8L0,0.55","filled":false,"stroke":"#2020ff","strokeWidth":1.2,"size":110,"opacity":1},
"encoding":{"x":{"field":"x","type":"quantitative","axis":{"orient":"top","values":[-2.8,-2.6,-2.4,-2.2,-1.8,-1.6,-1.4,-1.2,-0.8,-0.6],"tickSize":-3.5,"labels":false,"title":null}},
"y":{"field":"y","type":"quantitative","axis":{"orient":"right","values":[-0.8,-0.6,-0.4,-0.2,0.2,0.4,0.6,0.8,1.2,1.4],"tickSize":-3.5,"labels":false,"title":null}}}}
]},
{"width":177,"height":140,"data":{"name":"sc"},"transform":[{"filter":"datum.p=='TR'"}],"resolve":{"axis":{"x":"independent","y":"independent"}},
"layer":[
{"mark":{"type":"rule","strokeDash":[10,7],"color":"#7f7f7f","strokeWidth":1.6},"encoding":{"y":{"datum":0,"type":"quantitative","scale":{"domain":[-1,1.6],"nice":false,"zero":false},"axis":null}}},
{"transform":[{"filter":"datum.c=='r'"}],"mark":{"type":"point","shape":"triangle-up","filled":true,"fill":"#dd0000","stroke":"#300000","strokeWidth":0.6,"size":34,"opacity":1},
"encoding":{"x":{"field":"x","type":"quantitative","scale":{"domain":[-2.8,0.4],"nice":false,"zero":false},"axis":{"orient":"bottom","values":[-2,-1,0],"tickSize":-7,"labels":false,"title":null}},
"y":{"field":"y","type":"quantitative","scale":{"domain":[-1,1.6],"nice":false,"zero":false},"axis":{"orient":"left","values":[-1,0,1],"tickSize":-7,"labels":false,"title":null}}}},
{"transform":[{"filter":"datum.c=='rl'"}],"mark":{"type":"point","shape":"M0,-0.5L0.5,0L0,0.5L-0.5,0Z M0,0L0,1.1 M-0.35,0.75L0,1.1L0.35,0.75","filled":false,"stroke":"#ff2020","strokeWidth":1.3,"size":160,"opacity":1},
"encoding":{"x":{"field":"x","type":"quantitative","axis":{"orient":"top","values":[-2,-1,0],"tickSize":-7,"labels":false,"title":null}},
"y":{"field":"y","type":"quantitative","axis":{"orient":"right","values":[-1,0,1],"tickSize":-7,"labels":false,"title":null}}}},
{"transform":[{"filter":"datum.c=='b'"}],"mark":{"type":"circle","fill":"#0a0aee","stroke":"#000033","strokeWidth":0.6,"size":48,"opacity":1},
"encoding":{"x":{"field":"x","type":"quantitative","axis":{"orient":"bottom","values":[-2.6,-2.4,-2.2,-1.8,-1.6,-1.4,-1.2,-0.8,-0.6,-0.4,-0.2,0.2],"tickSize":-3.5,"labels":false,"title":null}},
"y":{"field":"y","type":"quantitative","axis":{"orient":"left","values":[-0.8,-0.6,-0.4,-0.2,0.2,0.4,0.6,0.8,1.2,1.4],"tickSize":-3.5,"labels":false,"title":null}}}},
{"transform":[{"filter":"datum.c=='bl'"}],"mark":{"type":"point","shape":"M-0.55,-0.25L0,0.55L0.55,-0.25 M0,-0.8L0,0.55","filled":false,"stroke":"#2020ff","strokeWidth":1.2,"size":110,"opacity":1},
"encoding":{"x":{"field":"x","type":"quantitative","axis":{"orient":"top","values":[-2.6,-2.4,-2.2,-1.8,-1.6,-1.4,-1.2,-0.8,-0.6,-0.4,-0.2,0.2],"tickSize":-3.5,"labels":false,"title":null}},
"y":{"field":"y","type":"quantitative","axis":{"orient":"right","values":[-0.8,-0.6,-0.4,-0.2,0.2,0.4,0.6,0.8,1.2,1.4],"tickSize":-3.5,"labels":false,"title":null}}}}
]},
{"width":74,"height":140,"data":{"values":[]},"mark":"point","view":{"stroke":null}},
{"width":176,"height":140,"data":{"name":"sm"},"transform":[{"filter":"datum.p=='RTL'"}],"resolve":{"axis":{"x":"independent","y":"independent"}},
"layer":[
{"mark":{"type":"rule","strokeDash":[11,8],"color":"#7f7f7f","strokeWidth":1.6},"encoding":{"y":{"datum":0,"type":"quantitative","scale":{"domain":[-0.7,1.2],"nice":false,"zero":false},"axis":null}}},
{"mark":{"type":"rule","strokeWidth":1.2,"opacity":0.75,"clip":true},"encoding":{"x":{"field":"xl","type":"quantitative","scale":{"domain":[-2.5,-0.5],"nice":false,"zero":false},"axis":{"orient":"top","values":[-2.5,-2,-1.5,-1],"tickSize":-7,"labels":false,"title":null}},"x2":{"field":"xh"},"y":{"field":"y","type":"quantitative","scale":{"domain":[-0.7,1.2],"nice":false,"zero":false},"axis":{"orient":"right","values":[-0.5,0,0.5,1],"tickSize":-7,"labels":false,"title":null}},"color":{"field":"g","type":"nominal","scale":{"domain":["g","r","b","p"],"range":["#6e6e6e","#ff2a2a","#1c1cff","#ff7ac6"]},"legend":null}}},
{"mark":{"type":"rule","strokeWidth":1.2,"opacity":0.75,"clip":true},"encoding":{"x":{"field":"x","type":"quantitative","axis":{"orient":"bottom","values":[-2.4,-2.3,-2.2,-2.1,-1.9,-1.8,-1.7,-1.6,-1.4,-1.3,-1.2,-1.1,-0.9,-0.8,-0.7,-0.6],"tickSize":-3.5,"labels":false,"title":null}},"y":{"field":"yl","type":"quantitative","axis":{"orient":"left","values":[-0.6,-0.4,-0.3,-0.2,-0.1,0.1,0.2,0.3,0.4,0.6,0.7,0.8,0.9,1.1],"tickSize":-3.5,"labels":false,"title":null}},"y2":{"field":"yh"},"color":{"field":"g","type":"nominal","legend":null}}},
{"mark":{"type":"tick","orient":"vertical","size":8,"thickness":1.2,"opacity":0.75,"clip":true},"encoding":{"x":{"field":"xl","type":"quantitative","axis":{"orient":"top","values":[-2.4,-2.3,-2.2,-2.1,-1.9,-1.8,-1.7,-1.6,-1.4,-1.3,-1.2,-1.1,-0.9,-0.8,-0.7,-0.6],"tickSize":-3.5,"labels":false,"title":null}},"y":{"field":"y","type":"quantitative","axis":{"orient":"right","values":[-0.6,-0.4,-0.3,-0.2,-0.1,0.1,0.2,0.3,0.4,0.6,0.7,0.8,0.9,1.1],"tickSize":-3.5,"labels":false,"title":null}},"color":{"field":"g","type":"nominal","legend":null}}},
{"mark":{"type":"tick","orient":"vertical","size":8,"thickness":1.2,"opacity":0.75,"clip":true},"encoding":{"x":{"field":"xh","type":"quantitative","axis":null},"y":{"field":"y","type":"quantitative","axis":null},"color":{"field":"g","type":"nominal","legend":null}}},
{"mark":{"type":"tick","orient":"horizontal","size":10,"thickness":1.2,"opacity":0.75,"clip":true},"encoding":{"x":{"field":"x","type":"quantitative","axis":null},"y":{"field":"yl","type":"quantitative","axis":null},"color":{"field":"g","type":"nominal","legend":null}}},
{"mark":{"type":"tick","orient":"horizontal","size":10,"thickness":1.2,"opacity":0.75,"clip":true},"encoding":{"x":{"field":"x","type":"quantitative","axis":null},"y":{"field":"yh","type":"quantitative","axis":null},"color":{"field":"g","type":"nominal","legend":null}}},
{"mark":{"type":"point","filled":true,"strokeWidth":1.5,"opacity":1},"encoding":{"x":{"field":"x","type":"quantitative","axis":{"orient":"bottom","values":[-2.5,-2,-1.5,-1],"tickSize":-7,"labels":false,"title":null}},"y":{"field":"y","type":"quantitative","axis":{"orient":"left","values":[-0.5,0,0.5,1],"tickSize":-7,"labelPadding":17,"title":"[S/Fe]","titlePadding":4}},
"shape":{"field":"g","type":"nominal","scale":{"domain":["g","r","b","p"],"range":["square","triangle-up","circle","triangle-up"]},"legend":null},
"size":{"field":"g","type":"nominal","scale":{"domain":["g","r","b","p"],"range":[90,150,115,130]},"legend":null},
"fill":{"field":"g","type":"nominal","scale":{"domain":["g","r","b","p"],"range":["#555555","#e80000","#0000ff","#ff78c8"]},"legend":null},
"stroke":{"field":"g","type":"nominal","scale":{"domain":["g","r","b","p"],"range":["#000000","#000000","#000000","#ff78c8"]},"legend":null}}},
{"data":{"name":"ar"},"transform":[{"filter":"datum.p=='RTL'"}],"mark":{"type":"rule","color":"#ff1010","strokeWidth":1.8},"encoding":{"x":{"field":"x","type":"quantitative","axis":null},"y":{"field":"y","type":"quantitative","axis":null},"x2":{"field":"x2"},"y2":{"field":"y2"}}},
{"data":{"name":"ar"},"transform":[{"filter":"datum.p=='RTL'"}],"mark":{"type":"point","shape":"triangle-down","filled":true,"color":"#ff1010","size":55,"angle":308,"opacity":1},"encoding":{"x":{"field":"x2","type":"quantitative","axis":null},"y":{"field":"y2","type":"quantitative","axis":null}}}
]},
{"width":172,"height":140,"data":{"name":"sm"},"transform":[{"filter":"datum.p=='RTR'"}],"resolve":{"axis":{"x":"independent","y":"independent"}},
"layer":[
{"mark":{"type":"rule","strokeDash":[11,8],"color":"#7f7f7f","strokeWidth":1.6},"encoding":{"y":{"datum":0,"type":"quantitative","scale":{"domain":[-0.7,1.2],"nice":false,"zero":false},"axis":null}}},
{"mark":{"type":"rule","strokeWidth":1.2,"opacity":0.75,"clip":true},"encoding":{"x":{"field":"xl","type":"quantitative","scale":{"domain":[-2.5,0.05],"nice":false,"zero":false},"axis":{"orient":"top","values":[-2.5,-2,-1.5,-1,-0.5,0],"tickSize":-7,"labels":false,"title":null}},"x2":{"field":"xh"},"y":{"field":"y","type":"quantitative","scale":{"domain":[-0.7,1.2],"nice":false,"zero":false},"axis":{"orient":"right","values":[-0.5,0,0.5,1],"tickSize":-7,"labels":false,"title":null}},"color":{"field":"g","type":"nominal","scale":{"domain":["g","r","b","p"],"range":["#6e6e6e","#ff2a2a","#1c1cff","#ff7ac6"]},"legend":null}}},
{"mark":{"type":"rule","strokeWidth":1.2,"opacity":0.75,"clip":true},"encoding":{"x":{"field":"x","type":"quantitative","axis":{"orient":"bottom","values":[-2.4,-2.3,-2.2,-2.1,-1.9,-1.8,-1.7,-1.6,-1.4,-1.3,-1.2,-1.1,-0.9,-0.8,-0.7,-0.6,-0.4,-0.3,-0.2,-0.1],"tickSize":-3.5,"labels":false,"title":null}},"y":{"field":"yl","type":"quantitative","axis":{"orient":"left","values":[-0.6,-0.4,-0.3,-0.2,-0.1,0.1,0.2,0.3,0.4,0.6,0.7,0.8,0.9,1.1],"tickSize":-3.5,"labels":false,"title":null}},"y2":{"field":"yh"},"color":{"field":"g","type":"nominal","legend":null}}},
{"mark":{"type":"tick","orient":"vertical","size":8,"thickness":1.2,"opacity":0.75,"clip":true},"encoding":{"x":{"field":"xl","type":"quantitative","axis":{"orient":"top","values":[-2.4,-2.3,-2.2,-2.1,-1.9,-1.8,-1.7,-1.6,-1.4,-1.3,-1.2,-1.1,-0.9,-0.8,-0.7,-0.6,-0.4,-0.3,-0.2,-0.1],"tickSize":-3.5,"labels":false,"title":null}},"y":{"field":"y","type":"quantitative","axis":{"orient":"right","values":[-0.6,-0.4,-0.3,-0.2,-0.1,0.1,0.2,0.3,0.4,0.6,0.7,0.8,0.9,1.1],"tickSize":-3.5,"labels":false,"title":null}},"color":{"field":"g","type":"nominal","legend":null}}},
{"mark":{"type":"tick","orient":"vertical","size":8,"thickness":1.2,"opacity":0.75,"clip":true},"encoding":{"x":{"field":"xh","type":"quantitative","axis":null},"y":{"field":"y","type":"quantitative","axis":null},"color":{"field":"g","type":"nominal","legend":null}}},
{"mark":{"type":"tick","orient":"horizontal","size":10,"thickness":1.2,"opacity":0.75,"clip":true},"encoding":{"x":{"field":"x","type":"quantitative","axis":null},"y":{"field":"yl","type":"quantitative","axis":null},"color":{"field":"g","type":"nominal","legend":null}}},
{"mark":{"type":"tick","orient":"horizontal","size":10,"thickness":1.2,"opacity":0.75,"clip":true},"encoding":{"x":{"field":"x","type":"quantitative","axis":null},"y":{"field":"yh","type":"quantitative","axis":null},"color":{"field":"g","type":"nominal","legend":null}}},
{"mark":{"type":"point","filled":true,"strokeWidth":1.5,"opacity":1},"encoding":{"x":{"field":"x","type":"quantitative","axis":{"orient":"bottom","values":[-2.5,-2,-1.5,-1,-0.5,0],"tickSize":-7,"labels":false,"title":null}},"y":{"field":"y","type":"quantitative","axis":{"orient":"left","values":[-0.5,0,0.5,1],"tickSize":-7,"labels":false,"title":null}},
"shape":{"field":"g","type":"nominal","scale":{"domain":["g","r","b","p"],"range":["square","triangle-up","circle","triangle-up"]},"legend":null},
"size":{"field":"g","type":"nominal","scale":{"domain":["g","r","b","p"],"range":[90,150,115,130]},"legend":null},
"fill":{"field":"g","type":"nominal","scale":{"domain":["g","r","b","p"],"range":["#555555","#e80000","#0000ff","#ff78c8"]},"legend":null},
"stroke":{"field":"g","type":"nominal","scale":{"domain":["g","r","b","p"],"range":["#000000","#000000","#000000","#ff78c8"]},"legend":null}}},
{"data":{"name":"ar"},"transform":[{"filter":"datum.p=='RTR'"}],"mark":{"type":"rule","color":"#ff1010","strokeWidth":1.8},"encoding":{"x":{"field":"x","type":"quantitative","axis":null},"y":{"field":"y","type":"quantitative","axis":null},"x2":{"field":"x2"},"y2":{"field":"y2"}}},
{"data":{"name":"ar"},"transform":[{"filter":"datum.p=='RTR'"}],"mark":{"type":"point","shape":"triangle-down","filled":true,"color":"#ff1010","size":55,"opacity":1},"encoding":{"x":{"field":"x2","type":"quantitative","axis":null},"y":{"field":"y2","type":"quantitative","axis":null}}}
]},
{"width":176,"height":139,"data":{"name":"sc"},"transform":[{"filter":"datum.p=='BL'"}],"resolve":{"axis":{"x":"independent","y":"independent"}},
"layer":[
{"mark":{"type":"rule","strokeDash":[10,7],"color":"#7f7f7f","strokeWidth":1.6},"encoding":{"y":{"datum":0,"type":"quantitative","scale":{"domain":[-1,1.6],"nice":false,"zero":false},"axis":null}}},
{"transform":[{"filter":"datum.c=='r'"}],"mark":{"type":"point","shape":"triangle-up","filled":true,"fill":"#dd0000","stroke":"#300000","strokeWidth":0.6,"size":34,"opacity":1},
"encoding":{"x":{"field":"x","type":"quantitative","scale":{"domain":[-3.2,-0.4],"nice":false,"zero":false},"axis":{"orient":"bottom","values":[-3,-2,-1],"tickSize":-7,"labelPadding":10,"title":"[Fe/H]","titlePadding":5}},
"y":{"field":"y","type":"quantitative","scale":{"domain":[-1,1.6],"nice":false,"zero":false},"axis":{"orient":"left","values":[-1,0,1],"tickSize":-7,"labelPadding":10,"title":"[Zn/Fe]","titlePadding":8}}}},
{"transform":[{"filter":"datum.c=='rl'"}],"mark":{"type":"point","shape":"M0,-0.5L0.5,0L0,0.5L-0.5,0Z M0,0L0,1.1 M-0.35,0.75L0,1.1L0.35,0.75","filled":false,"stroke":"#ff2020","strokeWidth":1.3,"size":160,"opacity":1},
"encoding":{"x":{"field":"x","type":"quantitative","axis":{"orient":"top","values":[-3,-2,-1],"tickSize":-7,"labels":false,"title":null}},
"y":{"field":"y","type":"quantitative","axis":{"orient":"right","values":[-1,0,1],"tickSize":-7,"labels":false,"title":null}}}},
{"transform":[{"filter":"datum.c=='b'"}],"mark":{"type":"circle","fill":"#0a0aee","stroke":"#000033","strokeWidth":0.6,"size":48,"opacity":1},
"encoding":{"x":{"field":"x","type":"quantitative","axis":{"orient":"bottom","values":[-2.8,-2.6,-2.4,-2.2,-1.8,-1.6,-1.4,-1.2,-0.8,-0.6],"tickSize":-3.5,"labels":false,"title":null}},
"y":{"field":"y","type":"quantitative","axis":{"orient":"left","values":[-0.8,-0.6,-0.4,-0.2,0.2,0.4,0.6,0.8,1.2,1.4],"tickSize":-3.5,"labels":false,"title":null}}}},
{"transform":[{"filter":"datum.c=='bl'"}],"mark":{"type":"point","shape":"M-0.55,-0.25L0,0.55L0.55,-0.25 M0,-0.8L0,0.55","filled":false,"stroke":"#2020ff","strokeWidth":1.2,"size":110,"opacity":1},
"encoding":{"x":{"field":"x","type":"quantitative","axis":{"orient":"top","values":[-2.8,-2.6,-2.4,-2.2,-1.8,-1.6,-1.4,-1.2,-0.8,-0.6],"tickSize":-3.5,"labels":false,"title":null}},
"y":{"field":"y","type":"quantitative","axis":{"orient":"right","values":[-0.8,-0.6,-0.4,-0.2,0.2,0.4,0.6,0.8,1.2,1.4],"tickSize":-3.5,"labels":false,"title":null}}}}
]},
{"width":177,"height":139,"data":{"name":"sc"},"transform":[{"filter":"datum.p=='BR'"}],"resolve":{"axis":{"x":"independent","y":"independent"}},
"layer":[
{"mark":{"type":"rule","strokeDash":[10,7],"color":"#7f7f7f","strokeWidth":1.6},"encoding":{"y":{"datum":0,"type":"quantitative","scale":{"domain":[-1,1.6],"nice":false,"zero":false},"axis":null}}},
{"transform":[{"filter":"datum.c=='r'"}],"mark":{"type":"point","shape":"triangle-up","filled":true,"fill":"#dd0000","stroke":"#300000","strokeWidth":0.6,"size":34,"opacity":1},
"encoding":{"x":{"field":"x","type":"quantitative","scale":{"domain":[-2.8,0.4],"nice":false,"zero":false},"axis":{"orient":"bottom","values":[-2,-1,0],"tickSize":-7,"labelPadding":10,"title":"[Zn/H]","titlePadding":5}},
"y":{"field":"y","type":"quantitative","scale":{"domain":[-1,1.6],"nice":false,"zero":false},"axis":{"orient":"left","values":[-1,0,1],"tickSize":-7,"labels":false,"title":null}}}},
{"transform":[{"filter":"datum.c=='rl'"}],"mark":{"type":"point","shape":"M0,-0.5L0.5,0L0,0.5L-0.5,0Z M0,0L0,1.1 M-0.35,0.75L0,1.1L0.35,0.75","filled":false,"stroke":"#ff2020","strokeWidth":1.3,"size":160,"opacity":1},
"encoding":{"x":{"field":"x","type":"quantitative","axis":{"orient":"top","values":[-2,-1,0],"tickSize":-7,"labels":false,"title":null}},
"y":{"field":"y","type":"quantitative","axis":{"orient":"right","values":[-1,0,1],"tickSize":-7,"labels":false,"title":null}}}},
{"transform":[{"filter":"datum.c=='b'"}],"mark":{"type":"circle","fill":"#0a0aee","stroke":"#000033","strokeWidth":0.6,"size":48,"opacity":1},
"encoding":{"x":{"field":"x","type":"quantitative","axis":{"orient":"bottom","values":[-2.6,-2.4,-2.2,-1.8,-1.6,-1.4,-1.2,-0.8,-0.6,-0.4,-0.2,0.2],"tickSize":-3.5,"labels":false,"title":null}},
"y":{"field":"y","type":"quantitative","axis":{"orient":"left","values":[-0.8,-0.6,-0.4,-0.2,0.2,0.4,0.6,0.8,1.2,1.4],"tickSize":-3.5,"labels":false,"title":null}}}},
{"transform":[{"filter":"datum.c=='bl'"}],"mark":{"type":"point","shape":"M-0.55,-0.25L0,0.55L0.55,-0.25 M0,-0.8L0,0.55","filled":false,"stroke":"#2020ff","strokeWidth":1.2,"size":110,"opacity":1},
"encoding":{"x":{"field":"x","type":"quantitative","axis":{"orient":"top","values":[-2.6,-2.4,-2.2,-1.8,-1.6,-1.4,-1.2,-0.8,-0.6,-0.4,-0.2,0.2],"tickSize":-3.5,"labels":false,"title":null}},
"y":{"field":"y","type":"quantitative","axis":{"orient":"right","values":[-0.8,-0.6,-0.4,-0.2,0.2,0.4,0.6,0.8,1.2,1.4],"tickSize":-3.5,"labels":false,"title":null}}}}
]},
{"width":74,"height":139,"data":{"values":[]},"mark":"point","view":{"stroke":null}},
{"width":176,"height":139,"data":{"name":"sm"},"transform":[{"filter":"datum.p=='RBL'"}],"resolve":{"axis":{"x":"independent","y":"independent"}},
"layer":[
{"mark":{"type":"rule","strokeDash":[11,8],"color":"#7f7f7f","strokeWidth":1.6},"encoding":{"y":{"datum":0,"type":"quantitative","scale":{"domain":[-0.7,1.2],"nice":false,"zero":false},"axis":null}}},
{"mark":{"type":"rule","strokeWidth":1.2,"opacity":0.75,"clip":true},"encoding":{"x":{"field":"xl","type":"quantitative","scale":{"domain":[-2.5,-0.5],"nice":false,"zero":false},"axis":{"orient":"top","values":[-2.5,-2,-1.5,-1],"tickSize":-7,"labels":false,"title":null}},"x2":{"field":"xh"},"y":{"field":"y","type":"quantitative","scale":{"domain":[-0.7,1.2],"nice":false,"zero":false},"axis":{"orient":"right","values":[-0.5,0,0.5,1],"tickSize":-7,"labels":false,"title":null}},"color":{"field":"g","type":"nominal","scale":{"domain":["g","r","b","p"],"range":["#6e6e6e","#ff2a2a","#1c1cff","#ff7ac6"]},"legend":null}}},
{"mark":{"type":"rule","strokeWidth":1.2,"opacity":0.75,"clip":true},"encoding":{"x":{"field":"x","type":"quantitative","axis":{"orient":"bottom","values":[-2.4,-2.3,-2.2,-2.1,-1.9,-1.8,-1.7,-1.6,-1.4,-1.3,-1.2,-1.1,-0.9,-0.8,-0.7,-0.6],"tickSize":-3.5,"labels":false,"title":null}},"y":{"field":"yl","type":"quantitative","axis":{"orient":"left","values":[-0.6,-0.4,-0.3,-0.2,-0.1,0.1,0.2,0.3,0.4,0.6,0.7,0.8,0.9,1.1],"tickSize":-3.5,"labels":false,"title":null}},"y2":{"field":"yh"},"color":{"field":"g","type":"nominal","legend":null}}},
{"mark":{"type":"tick","orient":"vertical","size":8,"thickness":1.2,"opacity":0.75,"clip":true},"encoding":{"x":{"field":"xl","type":"quantitative","axis":{"orient":"top","values":[-2.4,-2.3,-2.2,-2.1,-1.9,-1.8,-1.7,-1.6,-1.4,-1.3,-1.2,-1.1,-0.9,-0.8,-0.7,-0.6],"tickSize":-3.5,"labels":false,"title":null}},"y":{"field":"y","type":"quantitative","axis":{"orient":"right","values":[-0.6,-0.4,-0.3,-0.2,-0.1,0.1,0.2,0.3,0.4,0.6,0.7,0.8,0.9,1.1],"tickSize":-3.5,"labels":false,"title":null}},"color":{"field":"g","type":"nominal","legend":null}}},
{"mark":{"type":"tick","orient":"vertical","size":8,"thickness":1.2,"opacity":0.75,"clip":true},"encoding":{"x":{"field":"xh","type":"quantitative","axis":null},"y":{"field":"y","type":"quantitative","axis":null},"color":{"field":"g","type":"nominal","legend":null}}},
{"mark":{"type":"tick","orient":"horizontal","size":10,"thickness":1.2,"opacity":0.75,"clip":true},"encoding":{"x":{"field":"x","type":"quantitative","axis":null},"y":{"field":"yl","type":"quantitative","axis":null},"color":{"field":"g","type":"nominal","legend":null}}},
{"mark":{"type":"tick","orient":"horizontal","size":10,"thickness":1.2,"opacity":0.75,"clip":true},"encoding":{"x":{"field":"x","type":"quantitative","axis":null},"y":{"field":"yh","type":"quantitative","axis":null},"color":{"field":"g","type":"nominal","legend":null}}},
{"mark":{"type":"point","filled":true,"strokeWidth":1.5,"opacity":1},"encoding":{"x":{"field":"x","type":"quantitative","axis":{"orient":"bottom","values":[-2.5,-2,-1.5,-1],"tickSize":-7,"labelPadding":10,"title":"[Fe/H]","titlePadding":5}},"y":{"field":"y","type":"quantitative","axis":{"orient":"left","values":[-0.5,0,0.5,1],"tickSize":-7,"labelPadding":17,"title":"[Zn/Fe]","titlePadding":4}},
"shape":{"field":"g","type":"nominal","scale":{"domain":["g","r","b","p"],"range":["square","triangle-up","circle","triangle-up"]},"legend":null},
"size":{"field":"g","type":"nominal","scale":{"domain":["g","r","b","p"],"range":[90,150,115,130]},"legend":null},
"fill":{"field":"g","type":"nominal","scale":{"domain":["g","r","b","p"],"range":["#555555","#e80000","#0000ff","#ff78c8"]},"legend":null},
"stroke":{"field":"g","type":"nominal","scale":{"domain":["g","r","b","p"],"range":["#000000","#000000","#000000","#ff78c8"]},"legend":null}}},
{"data":{"name":"ar"},"transform":[{"filter":"datum.p=='RBL'"}],"mark":{"type":"rule","color":"#ff1010","strokeWidth":1.8},"encoding":{"x":{"field":"x","type":"quantitative","axis":null},"y":{"field":"y","type":"quantitative","axis":null},"x2":{"field":"x2"},"y2":{"field":"y2"}}},
{"data":{"name":"ar"},"transform":[{"filter":"datum.p=='RBL'"}],"mark":{"type":"point","shape":"triangle-down","filled":true,"color":"#ff1010","size":55,"angle":308,"opacity":1},"encoding":{"x":{"field":"x2","type":"quantitative","axis":null},"y":{"field":"y2","type":"quantitative","axis":null}}}
]},
{"width":172,"height":139,"data":{"name":"sm"},"transform":[{"filter":"datum.p=='RBR'"}],"resolve":{"axis":{"x":"independent","y":"independent"}},
"layer":[
{"mark":{"type":"rule","strokeDash":[11,8],"color":"#7f7f7f","strokeWidth":1.6},"encoding":{"y":{"datum":0,"type":"quantitative","scale":{"domain":[-0.7,1.2],"nice":false,"zero":false},"axis":null}}},
{"mark":{"type":"rule","strokeWidth":1.2,"opacity":0.75,"clip":true},"encoding":{"x":{"field":"xl","type":"quantitative","scale":{"domain":[-2.5,0.05],"nice":false,"zero":false},"axis":{"orient":"top","values":[-2.5,-2,-1.5,-1,-0.5,0],"tickSize":-7,"labels":false,"title":null}},"x2":{"field":"xh"},"y":{"field":"y","type":"quantitative","scale":{"domain":[-0.7,1.2],"nice":false,"zero":false},"axis":{"orient":"right","values":[-0.5,0,0.5,1],"tickSize":-7,"labels":false,"title":null}},"color":{"field":"g","type":"nominal","scale":{"domain":["g","r","b","p"],"range":["#6e6e6e","#ff2a2a","#1c1cff","#ff7ac6"]},"legend":null}}},
{"mark":{"type":"rule","strokeWidth":1.2,"opacity":0.75,"clip":true},"encoding":{"x":{"field":"x","type":"quantitative","axis":{"orient":"bottom","values":[-2.4,-2.3,-2.2,-2.1,-1.9,-1.8,-1.7,-1.6,-1.4,-1.3,-1.2,-1.1,-0.9,-0.8,-0.7,-0.6,-0.4,-0.3,-0.2,-0.1],"tickSize":-3.5,"labels":false,"title":null}},"y":{"field":"yl","type":"quantitative","axis":{"orient":"left","values":[-0.6,-0.4,-0.3,-0.2,-0.1,0.1,0.2,0.3,0.4,0.6,0.7,0.8,0.9,1.1],"tickSize":-3.5,"labels":false,"title":null}},"y2":{"field":"yh"},"color":{"field":"g","type":"nominal","legend":null}}},
{"mark":{"type":"tick","orient":"vertical","size":8,"thickness":1.2,"opacity":0.75,"clip":true},"encoding":{"x":{"field":"xl","type":"quantitative","axis":{"orient":"top","values":[-2.4,-2.3,-2.2,-2.1,-1.9,-1.8,-1.7,-1.6,-1.4,-1.3,-1.2,-1.1,-0.9,-0.8,-0.7,-0.6,-0.4,-0.3,-0.2,-0.1],"tickSize":-3.5,"labels":false,"title":null}},"y":{"field":"y","type":"quantitative","axis":{"orient":"right","values":[-0.6,-0.4,-0.3,-0.2,-0.1,0.1,0.2,0.3,0.4,0.6,0.7,0.8,0.9,1.1],"tickSize":-3.5,"labels":false,"title":null}},"color":{"field":"g","type":"nominal","legend":null}}},
{"mark":{"type":"tick","orient":"vertical","size":8,"thickness":1.2,"opacity":0.75,"clip":true},"encoding":{"x":{"field":"xh","type":"quantitative","axis":null},"y":{"field":"y","type":"quantitative","axis":null},"color":{"field":"g","type":"nominal","legend":null}}},
{"mark":{"type":"tick","orient":"horizontal","size":10,"thickness":1.2,"opacity":0.75,"clip":true},"encoding":{"x":{"field":"x","type":"quantitative","axis":null},"y":{"field":"yl","type":"quantitative","axis":null},"color":{"field":"g","type":"nominal","legend":null}}},
{"mark":{"type":"tick","orient":"horizontal","size":10,"thickness":1.2,"opacity":0.75,"clip":true},"encoding":{"x":{"field":"x","type":"quantitative","axis":null},"y":{"field":"yh","type":"quantitative","axis":null},"color":{"field":"g","type":"nominal","legend":null}}},
{"mark":{"type":"point","filled":true,"strokeWidth":1.5,"opacity":1},"encoding":{"x":{"field":"x","type":"quantitative","axis":{"orient":"bottom","values":[-2.5,-2,-1.5,-1,-0.5,0],"tickSize":-7,"labelPadding":10,"title":"[Zn/H]","titlePadding":5}},"y":{"field":"y","type":"quantitative","axis":{"orient":"left","values":[-0.5,0,0.5,1],"tickSize":-7,"labels":false,"title":null}},
"shape":{"field":"g","type":"nominal","scale":{"domain":["g","r","b","p"],"range":["square","triangle-up","circle","triangle-up"]},"legend":null},
"size":{"field":"g","type":"nominal","scale":{"domain":["g","r","b","p"],"range":[90,150,115,130]},"legend":null},
"fill":{"field":"g","type":"nominal","scale":{"domain":["g","r","b","p"],"range":["#555555","#e80000","#0000ff","#ff78c8"]},"legend":null},
"stroke":{"field":"g","type":"nominal","scale":{"domain":["g","r","b","p"],"range":["#000000","#000000","#000000","#ff78c8"]},"legend":null}}},
{"data":{"name":"ar"},"transform":[{"filter":"datum.p=='RBR'"}],"mark":{"type":"rule","color":"#ff1010","strokeWidth":1.8},"encoding":{"x":{"field":"x","type":"quantitative","axis":null},"y":{"field":"y","type":"quantitative","axis":null},"x2":{"field":"x2"},"y2":{"field":"y2"}}},
{"data":{"name":"ar"},"transform":[{"filter":"datum.p=='RBR'"}],"mark":{"type":"point","shape":"triangle-down","filled":true,"color":"#ff1010","size":55,"opacity":1},"encoding":{"x":{"field":"x2","type":"quantitative","axis":null},"y":{"field":"y2","type":"quantitative","axis":null}}}
]}
]
}
